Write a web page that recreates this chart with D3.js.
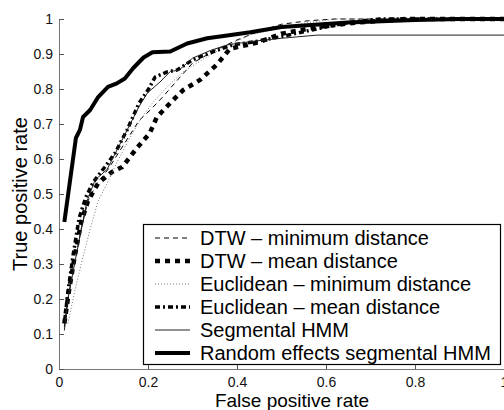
<!DOCTYPE html>
<html>
<head>
<meta charset="utf-8">
<script src="https://cdn.jsdelivr.net/npm/d3@7"></script>
<style>
  body { margin: 0; background: #fff; }
  svg { display: block; font-family: "Liberation Sans", Arial, sans-serif; }
</style>
</head>
<body>
<div id="main"></div>
<script>
const ctx = {
    w: 504,
    h: 410,
    left: 59,
    right: 504,
    top: 19,
    bottom: 369
};

// ROC curves, [false positive rate, true positive rate]
const dtwMin = [[0.012,0.12],[0.02,0.2],[0.035,0.3],[0.05,0.4],[0.065,0.48],[0.085,0.53],[0.11,0.57],[0.13,0.61],[0.16,0.67],[0.18,0.71],[0.205,0.74],[0.233,0.777],[0.272,0.834],[0.30,0.874],[0.35,0.91],[0.40,0.94],[0.45,0.965],[0.50,0.985],[0.56,0.995],[0.62,1.0],[1.0,1.0]];
const dtwMean = [[0.012,0.13],[0.022,0.22],[0.035,0.32],[0.05,0.42],[0.065,0.48],[0.088,0.531],[0.119,0.563],[0.142,0.577],[0.175,0.631],[0.204,0.674],[0.22,0.72],[0.25,0.76],[0.279,0.797],[0.317,0.826],[0.355,0.87],[0.384,0.915],[0.45,0.934],[0.5,0.958],[0.58,0.977],[0.67,0.99],[0.745,0.997],[0.78,1.0],[1.0,1.0]];
const euclMin = [[0.02,0.13],[0.035,0.22],[0.05,0.3],[0.07,0.4],[0.088,0.48],[0.108,0.53],[0.13,0.59],[0.153,0.646],[0.182,0.711],[0.21,0.76],[0.243,0.806],[0.28,0.85],[0.33,0.89],[0.38,0.925],[0.43,0.955],[0.5,0.975],[0.56,0.99],[0.62,1.0],[1.0,1.0]];
const euclMean = [[0.013,0.14],[0.02,0.22],[0.031,0.32],[0.045,0.43],[0.06,0.49],[0.077,0.534],[0.103,0.577],[0.126,0.617],[0.153,0.683],[0.18,0.76],[0.2,0.797],[0.216,0.834],[0.243,0.849],[0.265,0.854],[0.30,0.883],[0.345,0.906],[0.39,0.926],[0.44,0.935],[0.5,0.95],[0.58,0.972],[0.65,0.99],[0.72,1.0],[1.0,1.0]];
const segHmm = [[0.012,0.11],[0.02,0.2],[0.035,0.3],[0.05,0.4],[0.063,0.48],[0.081,0.54],[0.108,0.57],[0.12,0.60],[0.14,0.65],[0.16,0.70],[0.18,0.75],[0.198,0.788],[0.227,0.82],[0.25,0.85],[0.27,0.854],[0.30,0.888],[0.34,0.91],[0.378,0.926],[0.44,0.937],[0.50,0.945],[0.58,0.954],[1.0,0.954]];
const reSegHmm = [[0.012,0.42],[0.038,0.66],[0.047,0.683],[0.054,0.72],[0.07,0.74],[0.088,0.777],[0.11,0.806],[0.13,0.816],[0.148,0.83],[0.167,0.86],[0.19,0.89],[0.21,0.905],[0.25,0.907],[0.288,0.93],[0.333,0.945],[0.378,0.953],[0.43,0.962],[0.5,0.977],[0.65,0.99],[0.8,0.997],[0.9,1.0],[1.0,1.0]];

const seriesNames = ["DTW \u2013 minimum distance", "DTW \u2013 mean distance", "Euclidean \u2013 minimum distance",
                     "Euclidean \u2013 mean distance", "Segmental HMM", "Random effects segmental HMM"];
const seriesData = [dtwMin, dtwMean, euclMin, euclMean, segHmm, reSegHmm];
const xTicks = [0, 0.2, 0.4, 0.6, 0.8, 1];
const yTicks = [0, 0.1, 0.2, 0.3, 0.4, 0.5, 0.6, 0.7, 0.8, 0.9, 1];

// line style per series (same order as seriesNames)
const styles = [
    {color: "#000", width: 1, dash: "5,4"},
    {color: "#000", width: 4.5, dash: "5,5"},
    {color: "#777", width: 1, dash: "1,2"},
    {color: "#000", width: 3.5, dash: "5,3,2,3"},
    {color: "#222", width: 1, dash: null},
    {color: "#000", width: 4, dash: null}
];

function createViz(){
    let svg = d3.select("#main").append("svg")
        .attr("width", ctx.w)
        .attr("height", ctx.h);

    let xScale = d3.scaleLinear().domain([0, 1]).range([ctx.left, ctx.right]);
    let yScale = d3.scaleLinear().domain([0, 1]).range([ctx.bottom, ctx.top]);

    // axes, MATLAB style: ticks pointing inwards
    let xAxis = svg.append("g")
        .attr("transform", `translate(0,${ctx.bottom})`)
        .call(d3.axisBottom(xScale).tickValues(xTicks).tickSizeInner(-5).tickSizeOuter(0)
            .tickPadding(8).tickFormat(d3.format("")));
    let yAxis = svg.append("g")
        .attr("transform", `translate(${ctx.left},0)`)
        .call(d3.axisLeft(yScale).tickValues(yTicks).tickSizeInner(-5).tickSizeOuter(0)
            .tickPadding(6).tickFormat(d3.format("")));
    [xAxis, yAxis].forEach((a) => {
        a.select(".domain").attr("stroke", "#777");
        a.selectAll(".tick line").attr("stroke", "#555");
        a.selectAll("text").attr("fill", "#111")
            .style("font-size", "14px")
            .style("font-family", "'Liberation Sans', Arial, sans-serif");
    });

    // axis labels
    svg.append("text")
        .attr("x", 292)
        .attr("y", 407)
        .attr("text-anchor", "middle")
        .style("font-size", "19px")
        .text("False positive rate");
    svg.append("text")
        .attr("transform", `translate(27,${(ctx.top + ctx.bottom) / 2}) rotate(-90)`)
        .attr("text-anchor", "middle")
        .style("font-size", "20px")
        .text("True positive rate");

    // curves
    let line = d3.line()
        .x((d) => xScale(d[0]))
        .y((d) => yScale(d[1]));
    let curvesG = svg.append("g").attr("id", "curvesG");
    seriesData.forEach((data, i) => {
        curvesG.append("path")
            .datum(data)
            .attr("fill", "none")
            .attr("stroke", styles[i].color)
            .attr("stroke-width", styles[i].width)
            .attr("stroke-dasharray", styles[i].dash)
            .attr("stroke-linejoin", "round")
            .attr("d", line);
    });

    // legend
    let legendG = svg.append("g").attr("id", "legendG");
    legendG.append("rect")
        .attr("x", 143.5)
        .attr("y", 224.5)
        .attr("width", 357)
        .attr("height", 140)
        .attr("fill", "#fff")
        .attr("stroke", "#000")
        .attr("stroke-width", 1.2);
    seriesNames.forEach((name, i) => {
        let y = 238 + i * 23;
        legendG.append("line")
            .attr("x1", 155).attr("x2", 190)
            .attr("y1", y).attr("y2", y)
            .attr("stroke", styles[i].color)
            .attr("stroke-width", styles[i].width)
            .attr("stroke-dasharray", styles[i].dash);
        legendG.append("text")
            .attr("x", 200)
            .attr("y", y + 7)
            .style("font-size", "20px")
            .text(name);
    });
}

createViz();
</script>
</body>
</html>
